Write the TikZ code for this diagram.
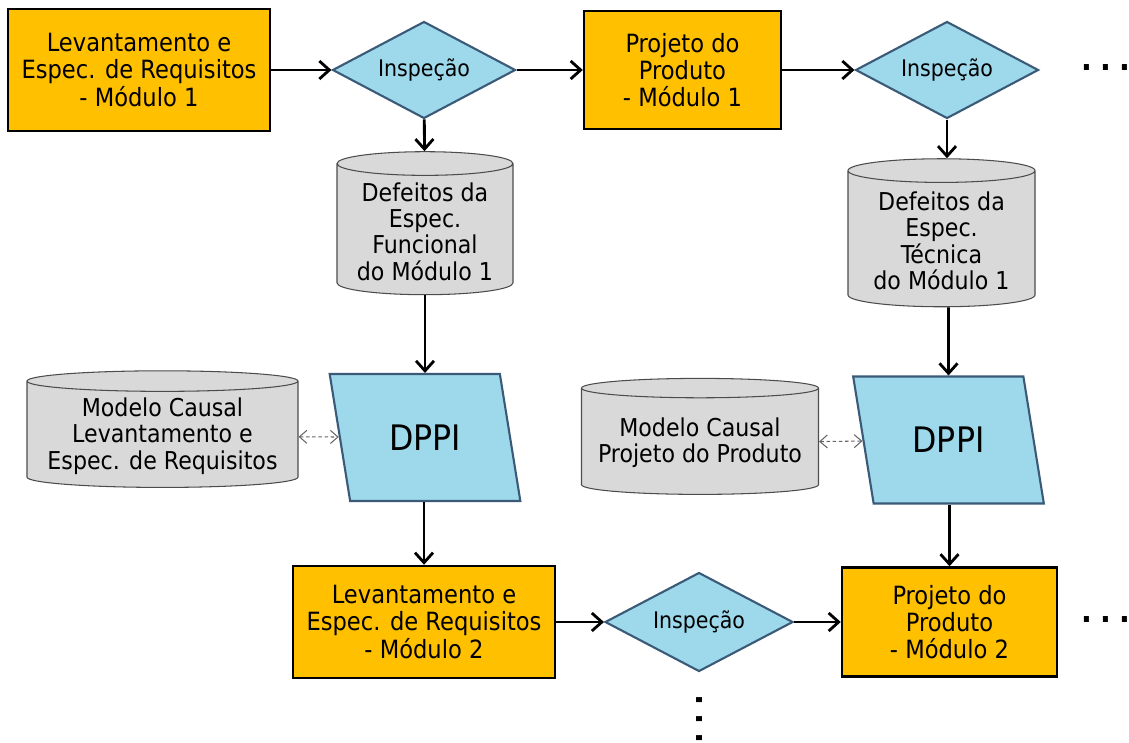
\documentclass[tikz,border=0pt]{standalone}
\usepackage{fontspec}
\setmainfont{DejaVu Sans Condensed}
\usetikzlibrary{shapes.geometric,positioning,arrows.meta}

\definecolor{fasecor}{HTML}{FFC000}
\definecolor{inspcor}{HTML}{9DD8EB}
\definecolor{inspborda}{HTML}{3A5A78}
\definecolor{basecor}{HTML}{D9D9D9}

\begin{document}
\begin{tikzpicture}[
  fase/.style={rectangle, draw=black, line width=1.4pt, fill=fasecor, align=center,
    font=\fontsize{14.3}{15.5}\selectfont, inner sep=2pt},
  insp/.style={diamond, draw=inspborda, line width=1.2pt, fill=inspcor, aspect=1.8,
    minimum width=3.66cm, minimum height=1.94cm, inner sep=0pt, font=\fontsize{13}{14}\selectfont},
  base/.style={cylinder, shape border rotate=90, draw=black!70, line width=0.6pt, fill=basecor,
    aspect=0.16, align=center, font=\fontsize{14}{15}\selectfont},
  dppi/.style={trapezium, trapezium left angle=107, trapezium right angle=73, trapezium stretches=true,
    draw=inspborda, line width=1.2pt, fill=inspcor, minimum width=3.82cm, minimum height=2.54cm,
    font=\fontsize{20}{22}\selectfont},
  seta/.style={->, >={Straight Barb[length=2mm,width=3.6mm]}, line width=1.6pt},
  troca/.style={<->, >={Straight Barb[length=1.5mm,width=2.6mm]}, dash pattern=on 2pt off 1.5pt,
    black!60, line width=0.6pt},
  pontos/.style={font=\bfseries\fontsize{18}{18}\selectfont, inner sep=0pt},
]
  \useasboundingbox (0,0) rectangle (22.58,-14.84);

  % primeira linha
  \node[fase, minimum width=5.24cm, minimum height=2.44cm] (req1) at (2.78,-1.4)
    {Levantamento e\\Espec. de Requisitos\\- Módulo 1};
  \node[insp] (insp1) at (8.48,-1.4) {Inspeção};
  \node[fase, minimum width=3.94cm, minimum height=2.36cm] (proj1) at (13.65,-1.4)
    {Projeto do\\Produto\\- Módulo 1};
  \node[insp] (insp2) at (18.94,-1.4) {Inspeção};
  \node[pontos] (pts1) at (22.12,-1.36) {.\kern4.5pt.\kern4.5pt.};

  % bases de defeitos
  \node[base, minimum width=3.52cm, minimum height=2.86cm] (def1) at (8.5,-4.63)
    {Defeitos da\\Espec.\\Funcional\\do Módulo 1};
  \node[base, minimum width=3.74cm, minimum height=2.96cm] (def2) at (18.83,-4.82)
    {Defeitos da\\Espec.\\Técnica\\do Módulo 1};

  % DPPI e modelos causais
  \node[dppi] (dppi1) at (8.5,-8.75) {DPPI};
  \node[dppi] (dppi2) at (18.97,-8.8) {DPPI};
  \node[base, aspect=0.085, minimum width=5.42cm, minimum height=2.3cm] (mod1) at (3.25,-8.72)
    {Modelo Causal\\Levantamento e\\Espec. de Requisitos};
  \node[base, aspect=0.09, minimum width=4.74cm, minimum height=2.32cm] (mod2) at (14.0,-8.86)
    {Modelo Causal\\Projeto do Produto};

  % segunda linha
  \node[fase, minimum width=5.24cm, minimum height=2.24cm] (req2) at (8.48,-12.44)
    {Levantamento e\\Espec. de Requisitos\\- Módulo 2};
  \node[insp, minimum width=3.76cm, minimum height=1.98cm] (insp3) at (13.98,-12.44) {Inspeção};
  \node[fase, minimum width=4.3cm, minimum height=2.18cm] (proj2) at (18.99,-12.44)
    {Projeto do\\Produto\\- Módulo 2};
  \node[pontos] (pts2) at (22.12,-12.4) {.\kern4.5pt.\kern4.5pt.};
  \node[pontos, rotate=90] (pts3) at (13.98,-14.38) {.\kern4.5pt.\kern4.5pt.};

  \draw[seta] (req1) -- (insp1);
  \draw[seta] (insp1) -- (proj1);
  \draw[seta] (proj1) -- (insp2);
  \draw[seta] (insp1) -- (def1);
  \draw[seta] (insp2.south) -- (insp2.south |- def2.north);
  \draw[seta] (def1) -- (def1 |- dppi1.north);
  \draw[seta] (def2.south -| dppi2.north) -- (dppi2);
  \draw[seta] (dppi1.south -| req2.north) -- (req2);
  \draw[seta] (dppi2.south -| proj2.north) -- (proj2);
  \draw[seta] (req2) -- (insp3);
  \draw[seta] (insp3) -- (proj2);
  \draw[troca] (mod1) -- (dppi1);
  \draw[troca] (mod2) -- (dppi2);
\end{tikzpicture}
\end{document}
